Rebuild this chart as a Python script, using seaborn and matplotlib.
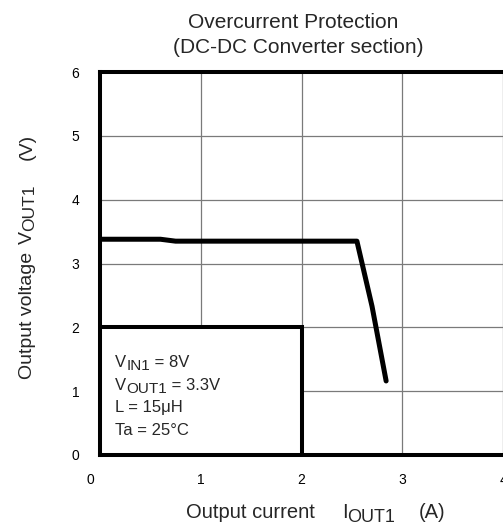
import matplotlib
matplotlib.use("Agg")
import matplotlib.pyplot as plt
import matplotlib.transforms as mtrans
import seaborn as sns
import pandas as pd
from matplotlib.patches import Rectangle

# Data
current_a = [0.0, 0.6, 0.75, 2.55, 2.70, 2.84]
vout_v = [3.38, 3.38, 3.35, 3.35, 2.33, 1.16]
x_ticks = [0, 1, 2, 3, 4]
y_ticks = [0, 1, 2, 3, 4, 5, 6]

W, H = 503, 526

sns.set_theme(style="white")
plt.rcParams["font.family"] = ["Liberation Sans", "DejaVu Sans"]

fig = plt.figure(figsize=(W / 100, H / 100), dpi=100)
ax = fig.add_axes([100 / W, 71 / H, 403 / W, 383 / H])

df = pd.DataFrame({"I": current_a, "V": vout_v})
sns.lineplot(data=df, x="I", y="V", ax=ax, color="black", linewidth=3.6,
             zorder=5, solid_capstyle="round", solid_joinstyle="round")

ax.set_xlim(0, 4)
ax.set_ylim(0, 6)
ax.set_xticks(x_ticks)
ax.set_yticks(y_ticks)
ax.set_xticklabels([str(t) for t in x_ticks], fontsize=10)
ax.set_yticklabels([str(t) for t in y_ticks], fontsize=10)
ax.tick_params(axis="x", length=0, pad=13, colors="black")
ax.tick_params(axis="y", length=0, pad=15, colors="black")
ax.grid(True, color="#7a7a7a", linewidth=0.9)
ax.set_axisbelow(True)

for side in ["left", "top", "bottom"]:
    ax.spines[side].set_linewidth(2.9)
    ax.spines[side].set_color("black")
ax.spines["right"].set_visible(False)

lbls = ax.get_xticklabels()
lbls[0].set_transform(lbls[0].get_transform() + mtrans.ScaledTranslation(-0.1, 0, fig.dpi_scale_trans))

box = Rectangle((0, 0), 2, 2, facecolor="white", edgecolor="black",
                linewidth=2.9, zorder=3)
ax.add_patch(box)
ax.set_xlabel("")
ax.set_ylabel("")

renderer = fig.canvas.get_renderer()


def seq_text(x_px, y_px, pieces, rotation=0):
    adv = 0.0
    for s, fs, drop in pieces:
        if rotation == 0:
            dx, dy = adv, -drop
        else:
            dx, dy = drop, adv
        tr = mtrans.offset_copy(fig.transFigure, fig=fig, x=dx, y=dy, units="dots")
        t = fig.text(x_px / W, 1 - y_px / H, s, fontsize=fs, transform=tr,
                     ha="left", va="baseline", rotation=rotation,
                     rotation_mode="anchor", zorder=10)
        bb = t.get_window_extent(renderer)
        adv += bb.width if rotation == 0 else bb.height


# Conditions box text
seq_text(115, 367, [("V", 12, 0), ("IN1", 11, 3), (" = 8V", 12, 0)])
seq_text(115, 390, [("V", 12, 0), ("OUT1", 11, 3), (" = 3.3V", 12, 0)])
seq_text(115, 412, [("L = 15\u03bcH", 12, 0)])
seq_text(115, 435, [("Ta = 25\u00b0C", 12, 0)])

# x label
seq_text(186, 518, [("Output current", 14.5, 0)])
seq_text(342, 518, [("I", 14.5, 0), ("OUT1", 13, 4)])
seq_text(419, 518, [("(A)", 14.5, 0)])

# y label (rotated)
seq_text(32, 379, [("Output voltage", 14, 0)], rotation=90)
seq_text(32, 244, [("V", 14, 0), ("OUT1", 12.5, 2)], rotation=90)
seq_text(32, 160, [("(V)", 14, 0)], rotation=90)

# title
fig.text(293 / W, 1 - 28 / H, "Overcurrent Protection", ha="center",
         va="baseline", fontsize=15)
fig.text(298 / W, 1 - 53 / H, "(DC-DC Converter section)", ha="center",
         va="baseline", fontsize=15)

fig.savefig("out.png", dpi=100)
